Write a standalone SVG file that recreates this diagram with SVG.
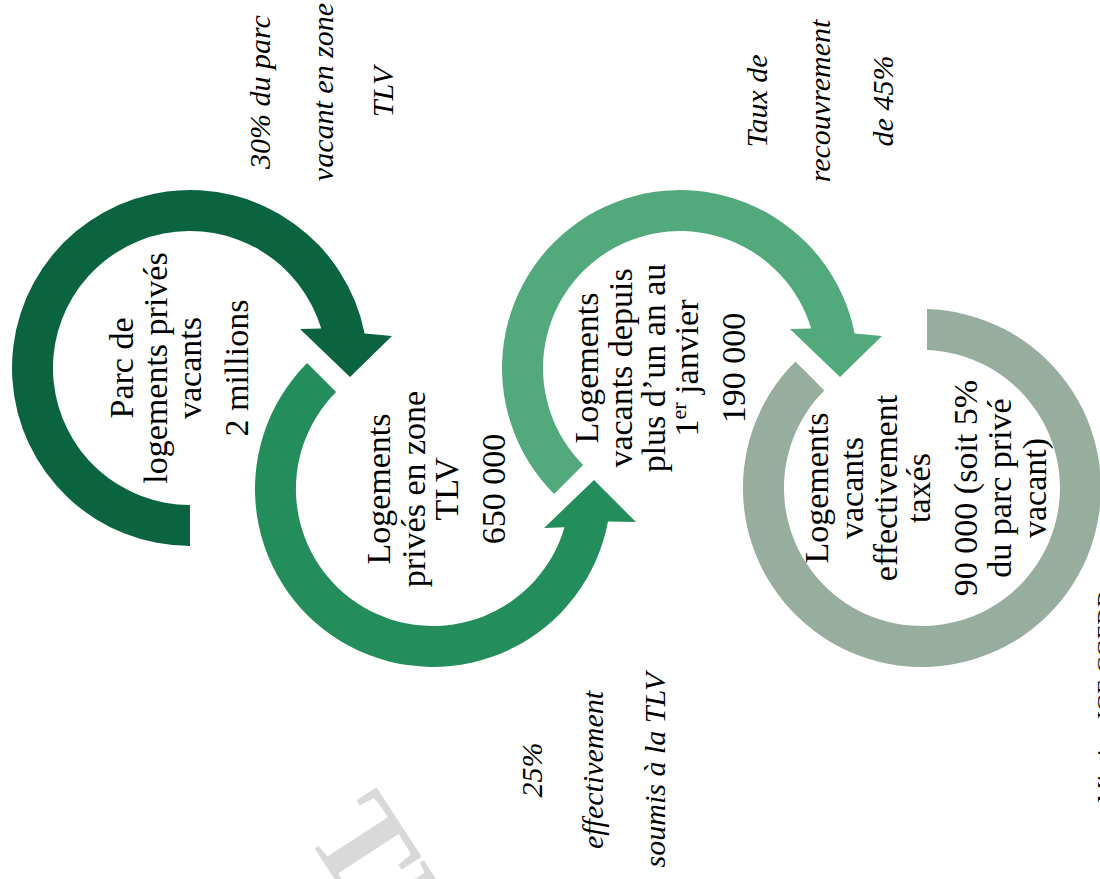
<svg xmlns="http://www.w3.org/2000/svg" width="1100" height="879" viewBox="0 0 1100 879">
<style>
.lbl{font-family:"Liberation Serif","Times New Roman",serif;font-size:34px;fill:#000;text-anchor:middle}
.it{font-family:"Liberation Serif","Times New Roman",serif;font-size:30px;font-style:italic;fill:#000;text-anchor:middle}
.src{font-family:"Liberation Serif","Times New Roman",serif;font-size:24px;fill:#000;text-anchor:end}
.wm{font-family:"Liberation Serif","Times New Roman",serif;font-size:130px;font-weight:bold;fill:#D9D9D9}
.c1{fill:#0B6440}.c2{fill:#238E5B}.c3{fill:#52A97C}.c4{fill:#97AE9E}
</style>
<rect width="1100" height="879" fill="#FFFFFF"/>
<g id="watermark"><text class="wm" transform="translate(304,832) rotate(57)">TE</text></g>

<g id="node1">
<path class="c1" transform="translate(190,368)" d="M0,178 A178,178 0 1,1 174.6,-34.6 L202,-32 L160,9 L110,-39 L131.2,-39.4 A137,137 0 1,0 0,137 Z"/>
<g transform="translate(190,368) rotate(-90)">
<text class="lbl" x="0" y="-57">Parc de</text>
<text class="lbl" x="0" y="-23">logements privés</text>
<text class="lbl" x="0" y="11">vacants</text>
<text class="lbl" x="0" y="58">2 millions</text>
</g>
</g>

<g id="node2">
<path class="c2" transform="translate(433,489)" d="M-125.9,-125.9 A178,178 0 1,0 175,32.4 L203,33 L161,-9 L111,39 L131.5,38.2 A137,137 0 1,1 -96.9,-96.9 Z"/>
<g transform="translate(433,489) rotate(-90)">
<text class="lbl" x="0" y="-43">Logements</text>
<text class="lbl" x="0" y="-8">privés en zone</text>
<text class="lbl" x="0" y="25">TLV</text>
<text class="lbl" x="0" y="72">650 000</text>
</g>
</g>

<g id="node3">
<path class="c3" transform="translate(680,368)" d="M-125.9,125.9 A178,178 0 1,1 174.6,-34.6 L202,-32 L160,9 L110,-39 L131.2,-39.4 A137,137 0 1,0 -96.9,96.9 Z"/>
<g transform="translate(680,368) rotate(-90)">
<text class="lbl" x="0" y="-82">Logements</text>
<text class="lbl" x="0" y="-48">vacants depuis</text>
<text class="lbl" x="0" y="-15">plus d’un an au</text>
<text class="lbl" x="0" y="18">1<tspan font-size="22" baseline-shift="super">er</tspan> janvier</text>
<text class="lbl" x="0" y="65">190 000</text>
</g>
</g>

<g id="node4">
<path class="c4" transform="translate(922,488)" d="M-126.6,-126.6 A179,179 0 1,0 5,-178.9 L5,-137.9 A138,138 0 1,1 -97.6,-97.6 Z"/>
<g transform="translate(922,488) rotate(-90)">
<text class="lbl" x="0" y="-94">Logements</text>
<text class="lbl" x="0" y="-59">vacants</text>
<text class="lbl" x="0" y="-25">effectivement</text>
<text class="lbl" x="0" y="8">taxés</text>
<text class="lbl" x="0" y="55">90 000 (soit 5%</text>
<text class="lbl" x="0" y="89">du parc privé</text>
<text class="lbl" x="0" y="124">vacant)</text>
</g>
</g>

<g id="connectors"></g>

<g id="labels" transform="rotate(-90)">
<text class="it" x="-92" y="270">30% du parc</text>
<text class="it" x="-92" y="333">vacant en zone</text>
<text class="it" x="-92" y="393">TLV</text>
<text class="it" x="-101" y="767">Taux de</text>
<text class="it" x="-101" y="830">recouvrement</text>
<text class="it" x="-101" y="893">de 45%</text>
<text class="it" x="-770" y="542">25%</text>
<text class="it" x="-770" y="603">effectivement</text>
<text class="it" x="-770" y="665">soumis à la TLV</text>
<text class="src" x="-590" y="1113">Mission IGF-CGEDD</text>
</g>
</svg>
